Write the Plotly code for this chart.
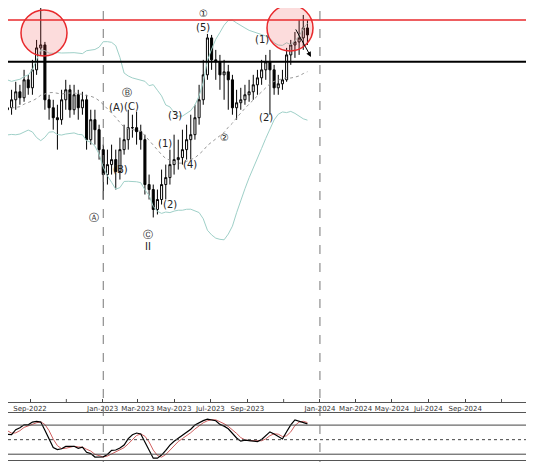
import pandas as pd
import plotly.graph_objs as go

# weekly candles, Mar 2022 .. Nov 2023
start = '2022-03-07'
close = [320, 310, 300, 285, 270, 280, 295, 305, 290, 275, 265, 280, 300, 310, 295, 285, 300, 315, 305, 290,
         292, 300, 308, 302, 320, 312, 330, 352, 355, 300, 292, 282, 280, 300, 310, 290, 305, 292, 300, 260,
         280, 270, 250, 225, 235, 240, 228, 250, 260, 272, 272, 268, 260, 215, 210, 190, 200, 215, 222, 235,
         240, 242, 250, 260, 265, 282, 300, 325, 362, 340, 338, 325, 328, 320, 292, 297, 300, 305, 308, 315,
         322, 330, 338, 330, 312, 316, 320, 345, 355, 358, 362, 372, 365]
high = [330, 325, 315, 305, 290, 290, 305, 315, 310, 295, 280, 290, 310, 320, 315, 300, 310, 325, 320, 310,
        300, 310, 318, 315, 330, 325, 340, 360, 392, 358, 305, 300, 295, 310, 320, 315, 315, 310, 308, 305,
        290, 290, 275, 255, 250, 255, 250, 262, 275, 290, 285, 288, 275, 265, 225, 215, 210, 230, 235, 250,
        265, 260, 270, 275, 285, 295, 315, 340, 366, 365, 350, 345, 340, 335, 325, 310, 312, 315, 320, 325,
        330, 340, 345, 350, 335, 325, 330, 352, 360, 368, 380, 385, 380]
low = [305, 300, 290, 270, 255, 262, 275, 290, 282, 265, 255, 262, 278, 295, 285, 275, 283, 298, 290, 280,
       240, 285, 290, 295, 298, 305, 305, 325, 345, 290, 280, 270, 250, 275, 290, 282, 285, 280, 285, 250,
       255, 255, 240, 200, 215, 225, 210, 220, 245, 250, 262, 255, 250, 205, 200, 182, 185, 195, 200, 215,
       225, 230, 235, 240, 240, 260, 275, 295, 320, 330, 320, 310, 300, 290, 285, 280, 290, 295, 298, 300,
       305, 315, 320, 285, 305, 305, 310, 318, 335, 342, 345, 350, 355]
tick_dates = ['2022-07-01', '2022-09-01', '2023-01-01', '2023-03-01', '2023-05-01', '2023-07-01',
              '2023-09-01', '2024-01-01', '2024-03-01', '2024-05-01', '2024-07-01', '2024-09-01', '2025-01-01']
tick_marks = ['2022-11-01', '2023-11-01', '2024-11-01']

df = pd.DataFrame({'Close': close, 'High': high, 'Low': low})
df['Date'] = pd.date_range(start, periods=len(df), freq='7D')
df['Open'] = df['Close'].shift(1).fillna(df['Close'][0])

# bollinger 20,2
mid = df['Close'].rolling(20, min_periods=1).mean()
sd = df['Close'].rolling(20, min_periods=1).std().fillna(0)
upper = mid + 2 * sd
lower = mid - 2 * sd

# stochastic 14,3,3
lo14 = df['Low'].rolling(14, min_periods=1).min()
hi14 = df['High'].rolling(14, min_periods=1).max()
k = (100 * (df['Close'] - lo14) / (hi14 - lo14)).rolling(3, min_periods=1).mean()
d = k.rolling(3, min_periods=1).mean()

fig = go.Figure()
band = '#9fd0c8'
fig.add_trace(go.Scatter(x=df['Date'], y=upper, mode='lines', line=dict(color=band, width=1)))
fig.add_trace(go.Scatter(x=df['Date'], y=lower, mode='lines', line=dict(color=band, width=1)))
fig.add_trace(go.Scatter(x=df['Date'], y=mid, mode='lines', line=dict(color='#999', width=1, dash='dot')))
fig.add_trace(go.Candlestick(x=df['Date'], open=df['Open'], high=df['High'], low=df['Low'], close=df['Close'],
                             increasing=dict(line=dict(color='black', width=1), fillcolor='white'),
                             decreasing=dict(line=dict(color='black', width=1), fillcolor='black'),
                             whiskerwidth=0))
fig.add_trace(go.Scatter(x=df['Date'], y=d, mode='lines', line=dict(color='#d06060', width=1),
                         xaxis='x2', yaxis='y2'))
fig.add_trace(go.Scatter(x=df['Date'], y=k, mode='lines', line=dict(color='black', width=1.2),
                         xaxis='x2', yaxis='y2'))

fig.add_shape(type='line', xref='paper', yref='y', x0=0, x1=1, y0=380, y1=380, line=dict(color='#e8292c', width=1.5))
fig.add_shape(type='line', xref='paper', yref='y', x0=0, x1=1, y0=338, y1=338, line=dict(color='black', width=2))
for lv, ds in [(80, 'solid'), (50, 'dot'), (20, 'solid')]:
    fig.add_shape(type='line', xref='paper', yref='y2', x0=0, x1=1, y0=lv, y1=lv,
                  line=dict(color='#444', width=1, dash=ds))

for xd in ['2023-01-02', '2024-01-01']:
    fig.add_shape(type='line', xref='x', yref='paper', x0=xd, x1=xd, y0=0, y1=1,
                  line=dict(color='#777', width=1, dash='dash'))

# page has an 8px body margin, so offset paper positions
for cx, cy in [(44, 33), (290, 28)]:
    fig.add_shape(type='circle', xref='paper', yref='paper',
                  x0=(cx - 31) / 534, x1=(cx + 15) / 534, y0=1 - (cy + 15) / 462, y1=1 - (cy - 31) / 462,
                  fillcolor='rgba(240,60,60,0.18)', line=dict(color='#e8292c', width=1.5))

labels = [('2022-09-12', 395, '⑤'), ('2023-06-19', 386, '①'), ('2023-06-19', 372, '(5)'),
          ('2023-09-26', 360, '(1)'), ('2023-10-03', 282, '(2)'), ('2023-07-24', 262, '②'),
          ('2023-05-03', 284, '(3)'), ('2023-04-16', 256, '(1)'), ('2023-05-28', 235, '(4)'),
          ('2023-04-24', 195, '(2)'), ('2023-03-19', 165, 'Ⓒ'), ('2023-03-19', 153, 'II'),
          ('2022-12-18', 182, 'Ⓐ'), ('2023-01-31', 230, '(B)'), ('2023-01-24', 292, '(A)'),
          ('2023-02-11', 307, 'Ⓑ'), ('2023-02-18', 293, '(C)')]
for lx, ly, lt in labels:
    fig.add_annotation(x=lx, y=ly, text=lt, showarrow=False, font=dict(size=10, color='#222'), xref='x', yref='y')

fig.add_annotation(x='2023-12-17', y=343, ax='2023-11-20', ay=372, axref='x', ayref='y', xref='x', yref='y',
                   text='', showarrow=True, arrowhead=2, arrowsize=1, arrowwidth=1, arrowcolor='black')

# tick marks without labels
for t in tick_marks:
    fig.add_shape(type='line', xref='x', yref='paper', x0=t, x1=t, y0=0.1472, y1=0.1537,
                  line=dict(color='#555', width=1))

xr = ['2022-07-26', '2025-01-08']
fig.update_layout(
    width=534, height=462, margin=dict(l=0, r=0, t=0, b=0), showlegend=False,
    plot_bgcolor='white', paper_bgcolor='white',
    font=dict(family='DejaVu Sans', size=7, color='#333'),
    xaxis=dict(range=xr, showgrid=False, rangeslider=dict(visible=False), tickvals=tick_dates,
               tickformat='%b-%Y', ticks='inside', ticklen=3, tickangle=0, automargin=False,
               showline=True, linecolor='#555', tickfont=dict(size=7), anchor='y'),
    yaxis=dict(domain=[0.1472, 1], range=[-3, 392], showgrid=False, showticklabels=False, zeroline=False,
               automargin=False),
    xaxis2=dict(range=xr, matches='x', showgrid=False, showticklabels=False, showline=True, linecolor='#555',
                mirror=True, anchor='y2', automargin=False),
    yaxis2=dict(domain=[0.0216, 0.1234], range=[8, 105], showgrid=False, showticklabels=False, zeroline=False,
                automargin=False),
)

fig.write_html('out.html')
